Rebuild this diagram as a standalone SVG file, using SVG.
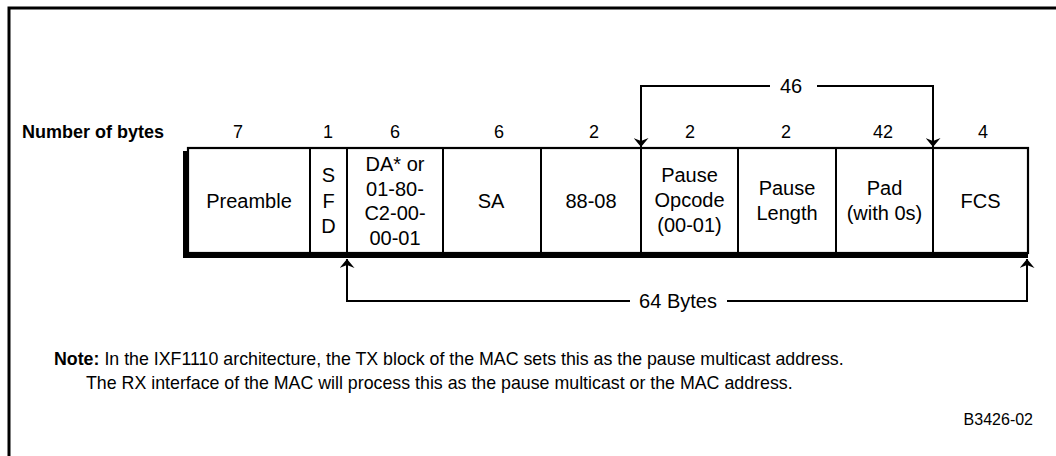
<svg xmlns="http://www.w3.org/2000/svg" width="1056" height="456" viewBox="0 0 1056 456">
<style>
text{font-family:"Liberation Sans",Arial,sans-serif;fill:#000}
.cell{font-size:20px;text-anchor:middle}
.num{font-size:18px;text-anchor:middle}
.line{stroke:#000;stroke-width:2;fill:none}
.box{stroke:#000;stroke-width:2.2;fill:#fff}
.note{font-size:17.8px}
</style>
<defs>
<marker id="ah" viewBox="0 0 9 15" refX="9" refY="7.5" markerWidth="9" markerHeight="15" markerUnits="userSpaceOnUse" orient="auto">
<path d="M0,0 L9,7.5 L0,15 L3,7.5 Z" fill="#000"/>
</marker>
</defs>
<rect width="1056" height="456" fill="#fff"/>
<g id="frame">
<path d="M9,456 V8 H1056" stroke="#000" stroke-width="3" fill="none"/>
</g>
<g id="labels">
<text x="22" y="137.5" font-size="18" font-weight="bold">Number of bytes</text>
<text class="num" x="238" y="137.5">7</text>
<text class="num" x="328" y="137.5">1</text>
<text class="num" x="395" y="137.5">6</text>
<text class="num" x="499" y="137.5">6</text>
<text class="num" x="594" y="137.5">2</text>
<text class="num" x="690" y="137.5">2</text>
<text class="num" x="786" y="137.5">2</text>
<text class="num" x="883" y="137.5">42</text>
<text class="num" x="983" y="137.5">4</text>
</g>
<g id="frame-box">
<rect x="183" y="151" width="845" height="107" fill="#000"/>
<rect class="box" x="188" y="148" width="840" height="105"/>
</g>
<g id="preamble">
<text class="cell" x="249" y="208">Preamble</text>
</g>
<g id="sfd">
<line class="line" x1="310" y1="148" x2="310" y2="253"/>
<text class="cell" x="328.5" y="182">S</text>
<text class="cell" x="328.5" y="207.5">F</text>
<text class="cell" x="328.5" y="233">D</text>
</g>
<g id="da">
<line class="line" x1="347" y1="148" x2="347" y2="253"/>
<text class="cell" x="395" y="171">DA* or</text>
<text class="cell" x="395" y="195.5">01-80-</text>
<text class="cell" x="395" y="220">C2-00-</text>
<text class="cell" x="395" y="244.5">00-01</text>
</g>
<g id="sa">
<line class="line" x1="443" y1="148" x2="443" y2="253"/>
<text class="cell" x="491" y="208">SA</text>
</g>
<g id="ethertype">
<line class="line" x1="541" y1="148" x2="541" y2="253"/>
<text class="cell" x="591" y="208">88-08</text>
</g>
<g id="opcode">
<line class="line" x1="641" y1="148" x2="641" y2="253"/>
<text class="cell" x="689.5" y="182">Pause</text>
<text class="cell" x="689.5" y="207">Opcode</text>
<text class="cell" x="689.5" y="232">(00-01)</text>
</g>
<g id="length">
<line class="line" x1="738" y1="148" x2="738" y2="253"/>
<text class="cell" x="787" y="195">Pause</text>
<text class="cell" x="787" y="220">Length</text>
</g>
<g id="pad">
<line class="line" x1="836" y1="148" x2="836" y2="253"/>
<text class="cell" x="884.5" y="195">Pad</text>
<text class="cell" x="884.5" y="220">(with 0s)</text>
</g>
<g id="fcs">
<line class="line" x1="933" y1="148" x2="933" y2="253"/>
<text class="cell" x="980.5" y="208">FCS</text>
</g>
<g id="connectors">
<path class="line" d="M770,86 H641 V147" marker-end="url(#ah)"/>
<path class="line" d="M817,86 H933 V147" marker-end="url(#ah)"/>
<text x="791" y="93" font-size="20" text-anchor="middle">46</text>
<path class="line" d="M630,301 H347 V259" marker-end="url(#ah)"/>
<path class="line" d="M727,301 H1027 V259" marker-end="url(#ah)"/>
<text x="678" y="308" font-size="20" text-anchor="middle">64 Bytes</text>
</g>
<g id="note">
<text class="note" x="54" y="365"><tspan font-weight="bold">Note:</tspan> In the IXF1110 architecture, the TX block of the MAC sets this as the pause multicast address.</text>
<text class="note" x="86" y="389">The RX interface of the MAC will process this as the pause multicast or the MAC address.</text>
<text x="1033" y="425" font-size="16" text-anchor="end">B3426-02</text>
</g>
</svg>
